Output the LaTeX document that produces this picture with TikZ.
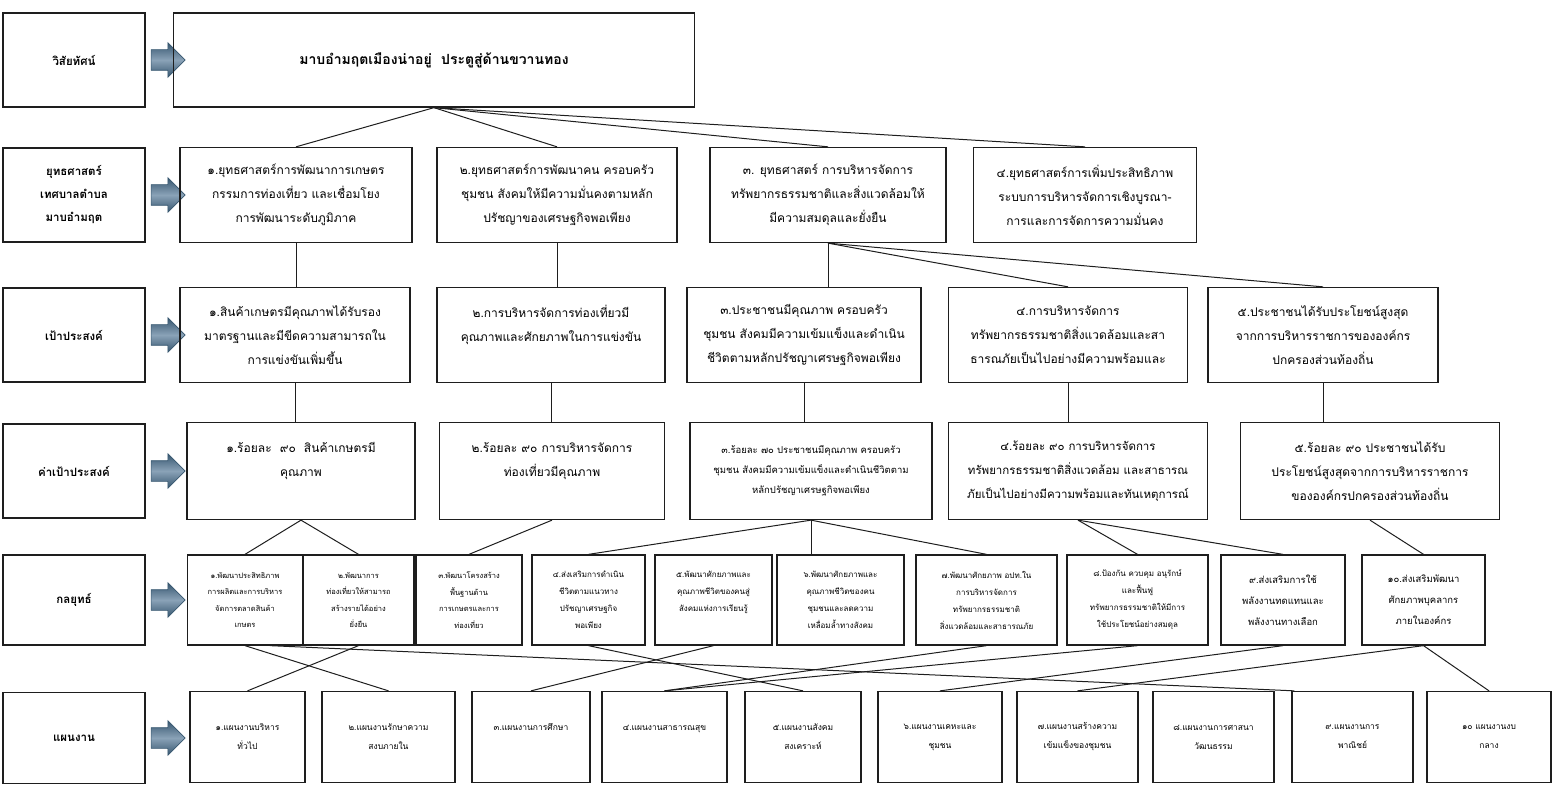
\documentclass[tikz,border=0pt]{standalone}
\usepackage{fontspec}
\setmainfont[Script=Thai]{Loma}
\usetikzlibrary{shapes.arrows, positioning}

\definecolor{arrowdark}{HTML}{36566F}
\definecolor{arrowlight}{HTML}{8AA2B7}
\definecolor{boxline}{HTML}{1E1E1E}

\begin{document}
\begin{tikzpicture}[
    x=1pt, y=-1pt,
    rowlabel/.style={rectangle, draw=boxline, line width=1.4pt, minimum width=142pt, minimum height=94pt, inner sep=0pt, align=center, font=\fontsize{11.5}{23}\selectfont\bfseries},
    cellbox/.style={rectangle, draw=boxline, line width=1.3pt, inner sep=0pt, align=center, font=\fontsize{12}{24}\selectfont},
    tacticbox/.style={cellbox, minimum height=90pt, font=\fontsize{7.5}{16.5}\selectfont},
    planbox/.style={cellbox, minimum height=91pt, font=\fontsize{8.5}{19}\selectfont},
    blockarrow/.style={single arrow, draw=arrowdark, line width=0.6pt, top color=arrowdark, bottom color=arrowdark, middle color=arrowlight, minimum height=34pt, single arrow head extend=7pt, inner sep=0pt},
    conn/.style={draw=boxline, line width=1pt}
]
    \useasboundingbox (0,0) rectangle (1556,786);

    % Row labels
    \node[rowlabel] (visionlbl) at (74,60) {วิสัยทัศน์};
    \node[rowlabel] (stratlbl) at (74,195) {ยุทธศาสตร์\\เทศบาลตำบล\\มาบอำมฤต};
    \node[rowlabel] (goallbl) at (74,335) {เป้าประสงค์};
    \node[rowlabel] (kpilbl) at (74,471) {ค่าเป้าประสงค์};
    \node[rowlabel, minimum height=90pt] (tacticlbl) at (74,600) {กลยุทธ์};
    \node[rowlabel, minimum height=91pt] (planlbl) at (74,738) {แผนงาน};

    % Block arrows
    \foreach \y/\n in {60/1, 195/2, 335/3, 471/4, 600/5, 738/6}
        \node[blockarrow] (arrow\n) at (163,\y) {\rule{0pt}{20pt}};

    % Vision
    \node[cellbox, minimum width=521pt, minimum height=94pt, font=\fontsize{14}{28}\selectfont\bfseries] (vision) at (434,60) {มาบอำมฤตเมืองน่าอยู่~~ประตูสู่ด้านขวานทอง};

    % Strategies
    \node[cellbox, minimum width=232pt, minimum height=95pt] (strat1) at (296,195) {๑.ยุทธศาสตร์การพัฒนาการเกษตร\\กรรมการท่องเที่ยว และเชื่อมโยง\\การพัฒนาระดับภูมิภาค};
    \node[cellbox, minimum width=240pt, minimum height=95pt] (strat2) at (557,195) {๒.ยุทธศาสตร์การพัฒนาคน ครอบครัว\\ชุมชน สังคมให้มีความมั่นคงตามหลัก\\ปรัชญาของเศรษฐกิจพอเพียง};
    \node[cellbox, minimum width=236pt, minimum height=95pt] (strat3) at (828,195) {๓. ยุทธศาสตร์ การบริหารจัดการ\\ทรัพยากรธรรมชาติและสิ่งแวดล้อมให้\\มีความสมดุลและยั่งยืน};
    \node[cellbox, minimum width=223pt, minimum height=95pt] (strat4) at (1085,195) {๔.ยุทธศาสตร์การเพิ่มประสิทธิภาพ\\ระบบการบริหารจัดการเชิงบูรณา-\\การและการจัดการความมั่นคง};

    % Goals
    \node[cellbox, minimum width=230pt, minimum height=95pt] (goal1) at (295,335) {๑.สินค้าเกษตรมีคุณภาพได้รับรอง\\มาตรฐานและมีขีดความสามารถใน\\การแข่งขันเพิ่มขึ้น};
    \node[cellbox, minimum width=228pt, minimum height=95pt] (goal2) at (551,335) {๒.การบริหารจัดการท่องเที่ยวมี\\คุณภาพและศักยภาพในการแข่งขัน\\~};
    \node[cellbox, minimum width=234pt, minimum height=95pt] (goal3) at (804,335) {๓.ประชาชนมีคุณภาพ ครอบครัว\\ชุมชน สังคมมีความเข้มแข็งและดำเนิน\\ชีวิตตามหลักปรัชญาเศรษฐกิจพอเพียง};
    \node[cellbox, minimum width=239pt, minimum height=95pt] (goal4) at (1068,335) {๔.การบริหารจัดการ\\ทรัพยากรธรรมชาติสิ่งแวดล้อมและสา\\ธารณภัยเป็นไปอย่างมีความพร้อมและ};
    \node[cellbox, minimum width=230pt, minimum height=95pt] (goal5) at (1323,335) {๕.ประชาชนได้รับประโยชน์สูงสุด\\จากการบริหารราชการขององค์กร\\ปกครองส่วนท้องถิ่น};

    % KPIs
    \node[cellbox, minimum width=228pt, minimum height=97pt] (kpi1) at (301,471) {๑.ร้อยละ~~๙๐~~สินค้าเกษตรมี\\คุณภาพ\\~};
    \node[cellbox, minimum width=225pt, minimum height=97pt] (kpi2) at (552,471) {๒.ร้อยละ ๙๐ การบริหารจัดการ\\ท่องเที่ยวมีคุณภาพ\\~};
    \node[cellbox, minimum width=242pt, minimum height=97pt, font=\fontsize{9.5}{20}\selectfont] (kpi3) at (811,471) {๓.ร้อยละ ๗๐ ประชาชนมีคุณภาพ ครอบครัว\\ชุมชน สังคมมีความเข้มแข็งและดำเนินชีวิตตาม\\หลักปรัชญาเศรษฐกิจพอเพียง};
    \node[cellbox, minimum width=259pt, minimum height=97pt, font=\fontsize{11.5}{24}\selectfont] (kpi4) at (1078,471) {๔.ร้อยละ ๙๐ การบริหารจัดการ\\ทรัพยากรธรรมชาติสิ่งแวดล้อม และสาธารณ\\ภัยเป็นไปอย่างมีความพร้อมและทันเหตุการณ์};
    \node[cellbox, minimum width=259pt, minimum height=97pt] (kpi5) at (1370,471) {๕.ร้อยละ ๙๐ ประชาชนได้รับ\\ประโยชน์สูงสุดจากการบริหารราชการ\\ขององค์กรปกครองส่วนท้องถิ่น};

    % Tactics
    \node[tacticbox, minimum width=115pt] (tactic1) at (245,600) {๑.พัฒนาประสิทธิภาพ\\การผลิตและการบริหาร\\จัดการตลาดสินค้า\\เกษตร};
    \node[tacticbox, minimum width=111pt] (tactic2) at (358.5,600) {๒.พัฒนาการ\\ท่องเที่ยวให้สามารถ\\สร้างรายได้อย่าง\\ยั่งยืน};
    \node[tacticbox, minimum width=106pt] (tactic3) at (469,600) {๓.พัฒนาโครงสร้าง\\พื้นฐานด้าน\\การเกษตรและการ\\ท่องเที่ยว};
    \node[tacticbox, minimum width=113pt, font=\fontsize{8}{17}\selectfont] (tactic4) at (588.5,600) {๔.ส่งเสริมการดำเนิน\\ชีวิตตามแนวทาง\\ปรัชญาเศรษฐกิจ\\พอเพียง};
    \node[tacticbox, minimum width=117pt, font=\fontsize{8}{17}\selectfont] (tactic5) at (713.5,600) {๕.พัฒนาศักยภาพและ\\คุณภาพชีวิตของคนสู่\\สังคมแห่งการเรียนรู้\\~};
    \node[tacticbox, minimum width=127pt, font=\fontsize{8}{17}\selectfont] (tactic6) at (840.5,600) {๖.พัฒนาศักยภาพและ\\คุณภาพชีวิตของคน\\ชุมชนและลดความ\\เหลื่อมล้ำทางสังคม};
    \node[tacticbox, minimum width=141pt, font=\fontsize{8}{17}\selectfont] (tactic7) at (986.5,600) {๗.พัฒนาศักยภาพ อปท.ใน\\การบริหารจัดการ\\ทรัพยากรธรรมชาติ\\สิ่งแวดล้อมและสาธารณภัย};
    \node[tacticbox, minimum width=141pt, font=\fontsize{8}{17}\selectfont] (tactic8) at (1137.5,600) {๘.ป้องกัน ควบคุม อนุรักษ์\\และฟื้นฟู\\ทรัพยากรธรรมชาติให้มีการ\\ใช้ประโยชน์อย่างสมดุล};
    \node[tacticbox, minimum width=124pt, font=\fontsize{9.5}{21}\selectfont] (tactic9) at (1283,600) {๙.ส่งเสริมการใช้\\พลังงานทดแทนและ\\พลังงานทางเลือก};
    \node[tacticbox, minimum width=123pt, font=\fontsize{9.5}{21}\selectfont] (tactic10) at (1423.5,600) {๑๐.ส่งเสริมพัฒนา\\ศักยภาพบุคลากร\\ภายในองค์กร};

    % Plans
    \node[planbox, minimum width=115pt] (plan1) at (247.5,737) {๑.แผนงานบริหาร\\ทั่วไป};
    \node[planbox, minimum width=133pt] (plan2) at (388.5,737) {๒.แผนงานรักษาความ\\สงบภายใน};
    \node[planbox, minimum width=118pt] (plan3) at (531,737) {๓.แผนงานการศึกษา\\~};
    \node[planbox, minimum width=125pt] (plan4) at (664.5,737) {๔.แผนงานสาธารณสุข\\~};
    \node[planbox, minimum width=116pt] (plan5) at (803,737) {๕.แผนงานสังคม\\สงเคราะห์};
    \node[planbox, minimum width=124pt] (plan6) at (940,737) {๖.แผนงานเคหะและ\\ชุมชน};
    \node[planbox, minimum width=121pt] (plan7) at (1077.5,737) {๗.แผนงานสร้างความ\\เข้มแข็งของชุมชน};
    \node[planbox, minimum width=121pt] (plan8) at (1213.5,737) {๘.แผนงานการศาสนา\\วัฒนธรรม};
    \node[planbox, minimum width=121pt] (plan9) at (1352.5,737) {๙.แผนงานการ\\พาณิชย์};
    \node[planbox, minimum width=124pt] (plan10) at (1489,737) {๑๐ แผนงานงบ\\กลาง};

    % Vision to strategies
    \foreach \s in {strat1, strat2, strat3, strat4}
        \draw[conn] (vision.south) -- (\s.north);

    % Strategies to goals
    \draw[conn] (strat1.south) -- (strat1.south |- goal1.north);
    \draw[conn] (strat2.south) -- (strat2.south |- goal2.north);
    \draw[conn] (strat3.south) -- (strat3.south |- goal3.north);
    \draw[conn] (strat3.south) -- (goal4.north);
    \draw[conn] (strat3.south) -- (goal5.north);

    % Goals to KPIs
    \foreach \g/\k in {goal1/kpi1, goal2/kpi2, goal3/kpi3, goal4/kpi4, goal5/kpi5}
        \draw[conn] (\g.south) -- (\g.south |- \k.north);

    % KPIs to tactics
    \draw[conn] (kpi1.south) -- (tactic1.north);
    \draw[conn] (kpi1.south) -- (tactic2.north);
    \draw[conn] (kpi2.south) -- (tactic3.north);
    \draw[conn] (kpi3.south) -- (tactic4.north);
    \draw[conn] (kpi3.south) -- (kpi3.south |- tactic6.north);
    \draw[conn] (kpi3.south) -- (tactic7.north);
    \draw[conn] (kpi4.south) -- (tactic8.north);
    \draw[conn] (kpi4.south) -- (tactic9.north);
    \draw[conn] (kpi5.south) -- (tactic10.north);

    % Tactics to plans
    \draw[conn] (tactic1.south) -- (plan2.north);
    \draw[conn] (tactic2.south) -- (plan1.north);
    \draw[conn] ([xshift=25pt]tactic1.south) -- ([xshift=3pt]plan9.north west);
    \draw[conn] (tactic4.south) -- (plan5.north);
    \draw[conn] (tactic5.south) -- (plan3.north);
    \draw[conn] (tactic7.south) -- (plan4.north);
    \draw[conn] (tactic8.south) -- (plan4.north);
    \draw[conn] (tactic9.south) -- (plan6.north);
    \draw[conn] (tactic10.south) -- (plan7.north);
    \draw[conn] (tactic10.south) -- (plan10.north);

\end{tikzpicture}
\end{document}
